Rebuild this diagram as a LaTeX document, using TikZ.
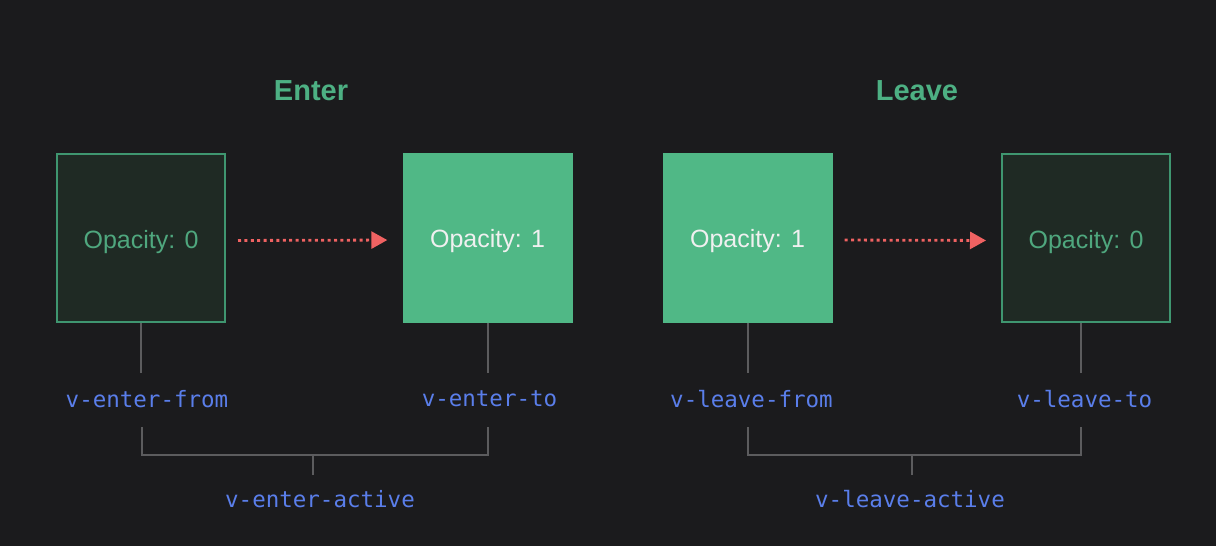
\documentclass[tikz,border=0pt]{standalone}
\usepackage{fontspec}
\setmainfont{Liberation Sans}
\setmonofont{DejaVu Sans Mono}
\usetikzlibrary{arrows.meta}
\definecolor{bg}{HTML}{1B1B1D}
\definecolor{vgreen}{HTML}{50B886}
\definecolor{dgreen}{HTML}{1F2A24}
\definecolor{bgreen}{HTML}{3F9670}
\definecolor{tgreen}{HTML}{4FA77E}
\definecolor{ttl}{HTML}{4DB083}
\definecolor{lblue}{HTML}{5A7EEA}
\definecolor{gline}{HTML}{5C5C5E}
\definecolor{ared}{HTML}{F06262}
\begin{document}
\begin{tikzpicture}[x=1pt,y=-1pt,
  boxtext/.style={font=\fontsize{25}{28}\selectfont,text height=21pt,text depth=0.2pt},
  offbox/.style={boxtext,draw=bgreen,fill=dgreen,line width=2pt,minimum width=168pt,minimum height=168pt,inner sep=0pt,text=tgreen},
  onbox/.style={boxtext,fill=vgreen,minimum width=170pt,minimum height=170pt,inner sep=0pt,text=white!94!black},
  ttlnode/.style={text=ttl,font=\fontsize{29}{32}\selectfont\bfseries},
  lbl/.style={text=lblue,font=\fontsize{22.5}{25}\selectfont\ttfamily},
  conn/.style={draw=gline,line width=2pt},
  dotarrow/.style={draw=ared,line width=2.8pt,dash pattern=on 3pt off 3.4pt,-{Triangle[length=16pt,width=17pt]},shorten <=12pt,shorten >=15pt}
]
\useasboundingbox (0,0) rectangle (1216,546);
\fill[bg] (0,0) rectangle (1216,546);
% titles
\node[ttlnode] (tenter) at (311,91) {Enter};
\node[ttlnode] (tleave) at (917,91) {Leave};
% boxes
\node[offbox] (b1) at (141,238) {Opacity: 0};
\node[onbox] (b2) at (487.5,237.5) {Opacity: 1};
\node[onbox] (b3) at (747.5,237.5) {Opacity: 1};
\node[offbox] (b4) at (1086,238) {Opacity: 0};
% arrows
\draw[dotarrow] ([yshift=-2.5pt]b1.east) -- ([yshift=-2.5pt]b2.west);
\draw[dotarrow] ([yshift=-2.5pt]b3.east) -- ([yshift=-2.5pt]b4.west);
% labels
\node[lbl] (l1) at (147,399) {v-enter-from};
\node[lbl] (l2) at (489.5,399) {v-enter-to};
\node[lbl] (l3) at (751.5,399) {v-leave-from};
\node[lbl] (l4) at (1084.5,399) {v-leave-to};
\node[lbl] (la1) at (320,499) {v-enter-active};
\node[lbl] (la2) at (910,499) {v-leave-active};
% stems
\coordinate (s1) at (141,373);
\coordinate (s2) at (487.5,373);
\coordinate (s3) at (747.5,373);
\coordinate (s4) at (1081,373);
\draw[conn] (b1.south) -- (s1);
\draw[conn] (b2.south) -- (s2);
\draw[conn] (b3.south) -- (s3);
\draw[conn] ([xshift=-5pt]b4.south) -- (s4);
% brackets
\coordinate (e1) at (142,427);
\coordinate (e2) at (487.5,427);
\coordinate (e3) at (313,455);
\coordinate (e4) at (313,475);
\draw[conn] (e1) |- (e2 |- e3) -- (e2);
\draw[conn] (e3) -- (e4);
\coordinate (f1) at (747.5,427);
\coordinate (f2) at (1081,427);
\coordinate (f3) at (912,455);
\coordinate (f4) at (912,475);
\draw[conn] (f1) |- (f2 |- f3) -- (f2);
\draw[conn] (f3) -- (f4);
\end{tikzpicture}
\end{document}
